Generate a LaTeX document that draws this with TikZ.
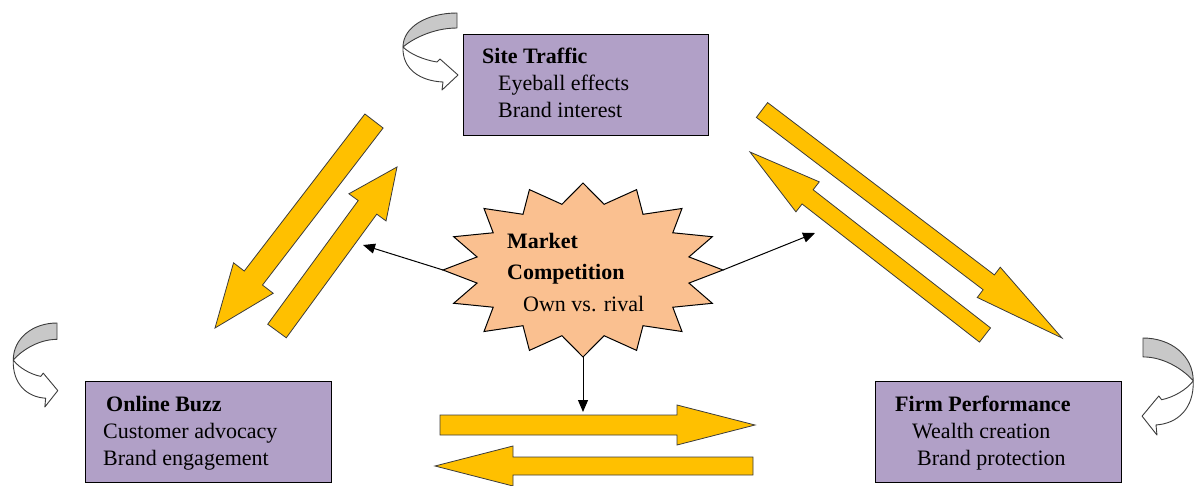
\documentclass[tikz,border=0pt]{standalone}
\usepackage{fontspec}
\setmainfont{Liberation Serif}
\usetikzlibrary{calc,arrows.meta}

\definecolor{boxlilac}{RGB}{177,160,199}
\definecolor{burstpeach}{RGB}{250,192,144}
\definecolor{flowgold}{RGB}{255,192,0}
\definecolor{loopgray}{RGB}{200,200,200}
\definecolor{edgegray}{RGB}{60,60,60}

% block arrow: tail, tip, shaft half width, head half width, head length
\newcommand{\flowarrow}[5]{%
  \coordinate (fa-h) at ($(#2)!#5!(#1)$);
  \draw[flowshape]
    ($(#1)!#3!90:(#2)$) -- ($(fa-h)!#3!90:(#2)$) -- ($(fa-h)!#4!90:(#2)$)
    -- (#2)
    -- ($(fa-h)!#4!-90:(#2)$) -- ($(fa-h)!#3!-90:(#2)$) -- ($(#1)!#3!-90:(#2)$)
    -- cycle;
}

\tikzset{
  factorbox/.style={draw=black, line width=1.2pt, fill=boxlilac, rectangle, inner sep=0pt},
  headline/.style={anchor=base west, inner sep=0pt, font=\fontsize{22}{27}\selectfont\bfseries},
  subline/.style={anchor=base west, inner sep=0pt, font=\fontsize{22}{27}\selectfont},
  flowshape/.style={draw=edgegray, line width=0.8pt, fill=flowgold, line join=miter},
  linkarrow/.style={draw=black, line width=1pt, -{Triangle[length=12pt,width=10pt]}},
  loopline/.style={draw=edgegray, line width=0.9pt, line join=round},
  selfloop/.pic={
    \draw[loopline, fill=loopgray] (0,0) .. controls (-30,0) and (-54,14) .. (-54,34)
      .. controls (-46,27) and (-25,15) .. (0,15) -- cycle;
    \draw[loopline, fill=white] (-54,34) .. controls (-55,56) and (-37,68) .. (-14,69)
      -- (-15,77) -- (1,62) -- (-17,46) -- (-20,49)
      .. controls (-33,47) and (-47,41) .. (-54,34) -- cycle;
  }
}

\begin{document}
\begin{tikzpicture}[x=1pt, y=-1pt]
\useasboundingbox (0,0) rectangle (1194,485);

% factor boxes
\node[factorbox, minimum width=245pt, minimum height=101pt, anchor=north west] (site) at (463,34) {};
\node[factorbox, minimum width=246pt, minimum height=101pt, anchor=north west] (buzz) at (85,381) {};
\node[factorbox, minimum width=246pt, minimum height=101pt, anchor=north west] (firm) at (875,381) {};

\node[headline] (site1) at (482,63) {Site Traffic};
\node[subline]  (site2) at (498,90) {Eyeball effects};
\node[subline]  (site3) at (498,117) {Brand interest};

\node[headline] (buzz1) at (106,411) {Online Buzz};
\node[subline]  (buzz2) at (103,438) {Customer advocacy};
\node[subline]  (buzz3) at (103,465) {Brand engagement};

\node[headline] (firm1) at (895,411) {Firm Performance};
\node[subline]  (firm2) at (912,438) {Wealth creation};
\node[subline]  (firm3) at (917,465) {Brand protection};

% market competition starburst
\coordinate (mc) at (583,270);
\draw[draw=black, line width=1pt, fill=burstpeach, line join=miter]
  plot[samples at={0,...,31}, variable=\k]
  ({583 + (mod(\k,2)==0 ? 140 : 108)*cos(\k*11.25)},
   {270 + (mod(\k,2)==0 ? 87 : 67)*sin(\k*11.25)}) -- cycle;
\coordinate (mc-w) at (443,270);
\coordinate (mc-e) at (723,270);
\coordinate (mc-s) at (583,357);

\node[headline] (mc1) at (507,248) {Market};
\node[headline] (mc2) at (507,279) {Competition};
\node[subline]  (mc3) at (523,311) {Own vs. rival};

% big flow arrows
\coordinate (a-tail) at (374,121); \coordinate (a-tip) at (215,328);
\coordinate (b-tail) at (277,331); \coordinate (b-tip) at (397,167);
\coordinate (c-tail) at (762,110); \coordinate (c-tip) at (1062,338);
\coordinate (d-tail) at (985,335); \coordinate (d-tip) at (750,152);
\coordinate (e-tail) at (440,425); \coordinate (e-tip) at (755,425);
\coordinate (f-tail) at (753,466); \coordinate (f-tip) at (435,466);

\flowarrow{a-tail}{a-tip}{11.5pt}{25pt}{63pt}
\flowarrow{b-tail}{b-tip}{11.5pt}{23pt}{50pt}
\flowarrow{c-tail}{c-tip}{9.3pt}{19pt}{92pt}
\flowarrow{d-tail}{d-tip}{9pt}{19pt}{73pt}
\flowarrow{e-tail}{e-tip}{10pt}{20pt}{78pt}
\flowarrow{f-tail}{f-tip}{9pt}{20pt}{78pt}

% influence of competition
\coordinate (to-left) at (363,245);
\coordinate (to-right) at (815,233);
\coordinate (to-bottom) at (583,412);
\draw[linkarrow] (mc-w) -- (to-left);
\draw[linkarrow] (mc-e) -- (to-right);
\draw[linkarrow] (mc-s) -- (to-bottom);

% self-reinforcing loops
\pic[shift={(457,13)}] (loopsite) {selfloop};
\pic[shift={(57,323)}, xscale=0.81, yscale=1.09] (loopbuzz) {selfloop};
\pic[shift={(1143,338)}, xscale=-0.93, yscale=1.26] (loopfirm) {selfloop};
\end{tikzpicture}
\end{document}
